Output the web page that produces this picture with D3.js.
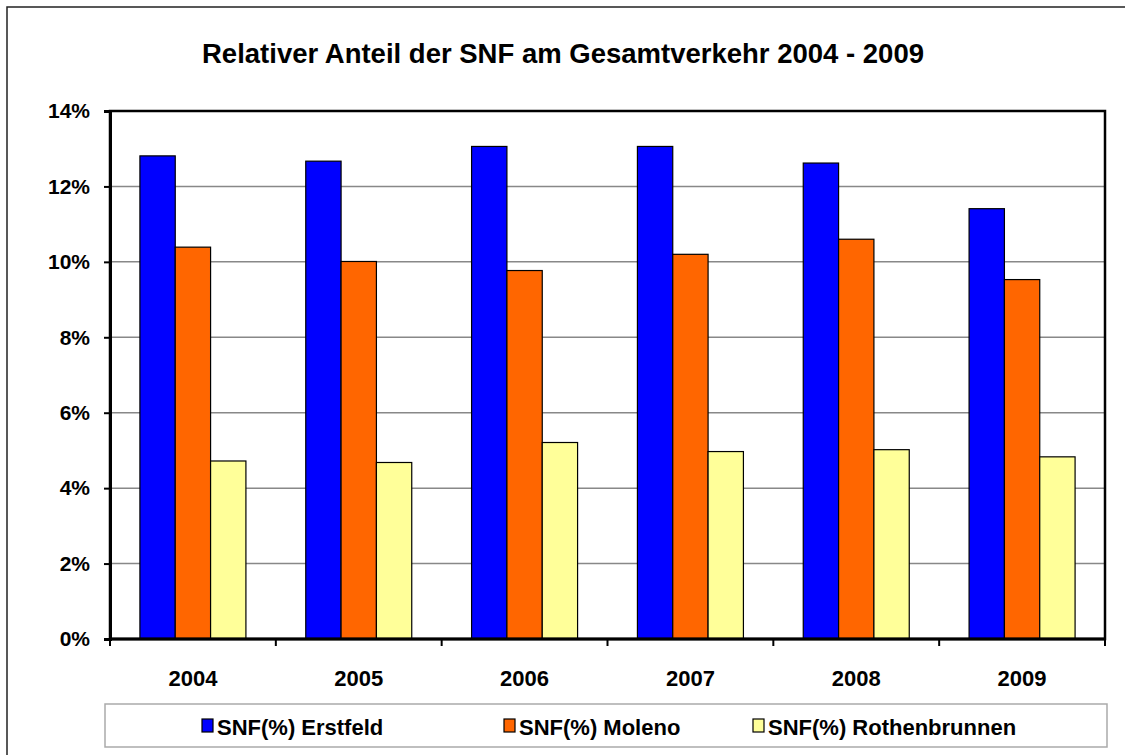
<!DOCTYPE html>
<html>
<head>
<meta charset="utf-8">
<script src="https://cdn.jsdelivr.net/npm/d3@7"></script>
<style>
  body { margin: 0; background: #fff; }
  text { font-family: "Liberation Sans", Arial, sans-serif; font-weight: bold; fill: #000; }
</style>
</head>
<body>
<svg id="chart" width="1125" height="755"></svg>
<script>
// data
const years = ['2004', '2005', '2006', '2007', '2008', '2009'];
const seriesNames = ['SNF(%) Erstfeld', 'SNF(%) Moleno', 'SNF(%) Rothenbrunnen'];
const erstfeld = [12.81, 12.67, 13.06, 13.06, 12.62, 11.41];
const moleno = [10.39, 10.01, 9.77, 10.20, 10.60, 9.53];
const rothenbrunnen = [4.72, 4.68, 5.21, 4.97, 5.02, 4.83];
const yTicks = [0, 2, 4, 6, 8, 10, 12, 14];
const colors = ['#0000ff', '#ff6600', '#ffff99'];

const series = [erstfeld, moleno, rothenbrunnen];

let svg = d3.select('#chart');

// outer chart frame (only left / top edges fall inside the picture)
svg.append('rect')
    .attr('x', 7).attr('y', 7)
    .attr('width', 1130).attr('height', 760)
    .attr('fill', 'none')
    .attr('stroke', '#222')
    .attr('stroke-width', 1.5);

svg.append('text')
    .attr('x', 563).attr('y', 63)
    .attr('text-anchor', 'middle')
    .style('font-size', '27.5px')
    .text('Relativer Anteil der SNF am Gesamtverkehr 2004 - 2009');

let margin = {top: 111, left: 110},
    width = 995,
    height = 528;

let g = svg.append('g')
    .attr('transform', 'translate(' + margin.left + ',' + margin.top + ')');

let x = d3.scaleBand().range([0, width]).domain(years);
let y = d3.scaleLinear().range([height, 0]).domain([0, 14]);

// gridlines
g.selectAll('.grid')
    .data(yTicks.filter(function(d) { return d > 0 && d < 14; }))
    .enter().append('line')
    .attr('x1', 0).attr('x2', width)
    .attr('y1', function(d) { return y(d); })
    .attr('y2', function(d) { return y(d); })
    .attr('stroke', '#888')
    .attr('stroke-width', 1.5);

// bars
let groupW = 106, barW = groupW / 3;
let bars = g.append('g');
series.forEach(function(vals, s) {
    bars.selectAll('.bar' + s)
        .data(vals)
        .enter().append('rect')
        .attr('x', function(d, i) { return x(years[i]) + (x.bandwidth() - groupW) / 2 + s * barW; })
        .attr('y', function(d) { return y(d); })
        .attr('width', barW)
        .attr('height', function(d) { return height - y(d); })
        .attr('fill', colors[s])
        .attr('stroke', '#000')
        .attr('stroke-width', 1.2);
});

// plot frame
g.append('rect')
    .attr('x', 0).attr('y', 0)
    .attr('width', width).attr('height', height)
    .attr('fill', 'none')
    .attr('stroke', '#000')
    .attr('stroke-width', 2.5);

// y axis
let yAxis = d3.axisLeft(y)
    .tickValues(yTicks)
    .tickSize(6)
    .tickFormat(function(d) { return d + '%'; });

g.append('g')
    .call(yAxis)
    .call(function(a) {
        a.select('.domain').attr('stroke', '#000').attr('stroke-width', 3);
        a.selectAll('.tick line').attr('stroke', '#000').attr('stroke-width', 2);
        a.selectAll('.tick text')
            .attr('x', -20)
            .style('font-size', '21px')
            .style('font-family', '"Liberation Sans", Arial, sans-serif');
    });

// x axis: ticks at category boundaries
g.append('g')
    .attr('transform', 'translate(0,' + height + ')')
    .call(function(a) {
        a.append('line')
            .attr('x1', 0).attr('x2', width)
            .attr('stroke', '#000').attr('stroke-width', 3);
        a.selectAll('.xtick')
            .data(years.concat(['end']))
            .enter().append('line')
            .attr('x1', function(d, i) { return i * x.step(); })
            .attr('x2', function(d, i) { return i * x.step(); })
            .attr('y1', 0).attr('y2', 7)
            .attr('stroke', '#000').attr('stroke-width', 2);
        a.selectAll('.xlabel')
            .data(years)
            .enter().append('text')
            .attr('x', function(d) { return x(d) + x.bandwidth() / 2; })
            .attr('y', 47)
            .attr('text-anchor', 'middle')
            .style('font-size', '22px')
            .text(function(d) { return d; });
    });

// legend
let legend = svg.append('g');
legend.append('rect')
    .attr('x', 105).attr('y', 704)
    .attr('width', 1002).attr('height', 43)
    .attr('fill', '#fff')
    .attr('stroke', '#aaa')
    .attr('stroke-width', 1.5);

let legendX = [202, 504, 753];
seriesNames.forEach(function(name, s) {
    legend.append('rect')
        .attr('x', legendX[s]).attr('y', 719)
        .attr('width', 11).attr('height', 13)
        .attr('fill', colors[s])
        .attr('stroke', '#000')
        .attr('stroke-width', 1.2);
    legend.append('text')
        .attr('x', legendX[s] + 15).attr('y', 735)
        .style('font-size', '22px')
        .text(name);
});
</script>
</body>
</html>
